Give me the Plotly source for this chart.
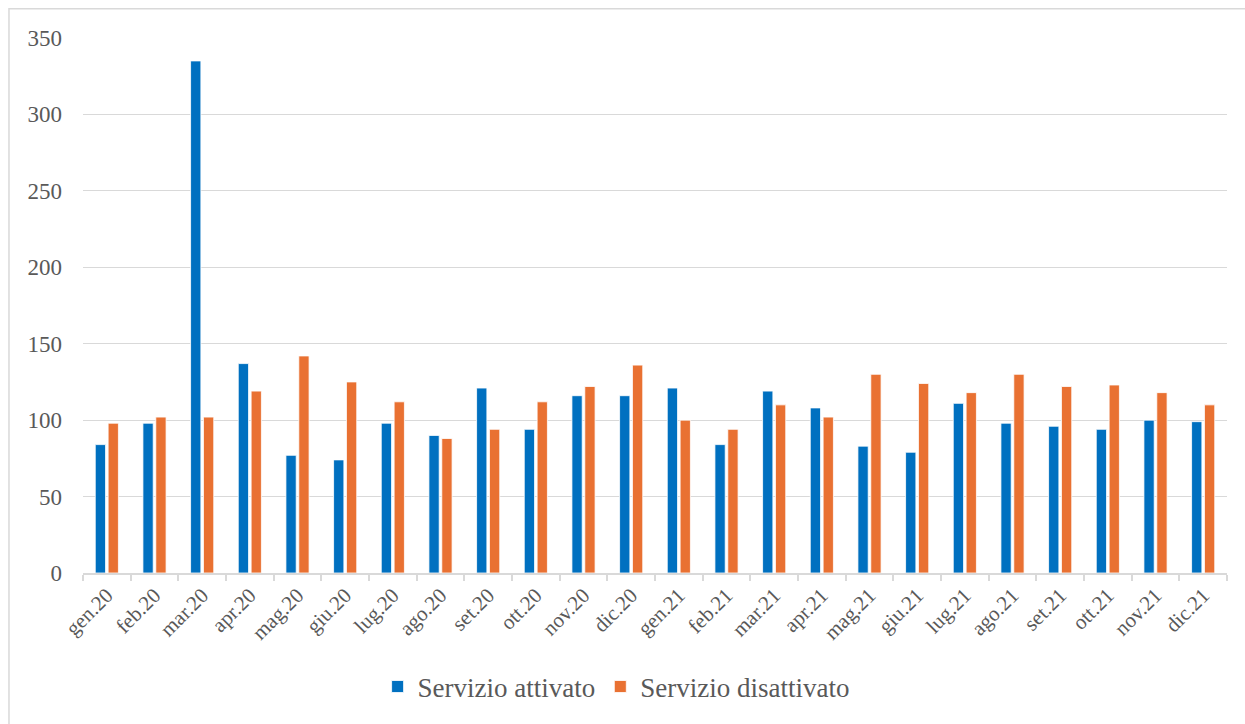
import plotly.graph_objects as go

months = ["gen.20", "feb.20", "mar.20", "apr.20", "mag.20", "giu.20", "lug.20", "ago.20",
          "set.20", "ott.20", "nov.20", "dic.20", "gen.21", "feb.21", "mar.21", "apr.21",
          "mag.21", "giu.21", "lug.21", "ago.21", "set.21", "ott.21", "nov.21", "dic.21"]
attivato = [84, 98, 335, 137, 77, 74, 98, 90, 121, 94, 116, 116,
            121, 84, 119, 108, 83, 79, 111, 98, 96, 94, 100, 99]
disattivato = [98, 102, 102, 119, 142, 125, 112, 88, 94, 112, 122, 136,
               100, 94, 110, 102, 130, 124, 118, 130, 122, 123, 118, 110]
y_ticks = [0, 50, 100, 150, 200, 250, 300, 350]

FONT = "'Times New Roman', 'Liberation Serif', 'DejaVu Serif', serif"
GREY = "#595959"

fig = go.Figure()
fig.add_trace(go.Bar(x=months, y=attivato, name="Servizio attivato",
                     marker=dict(color="#0070C0", line=dict(color="white", width=0.8))))
fig.add_trace(go.Bar(x=months, y=disattivato, name="Servizio disattivato",
                     marker=dict(color="#E97132", line=dict(color="white", width=0.8))))

fig.update_layout(
    width=1245, height=724,
    margin=dict(l=83, r=18, t=38, b=151, autoexpand=False),
    paper_bgcolor="white", plot_bgcolor="white",
    barmode="group", bargap=0.46, bargroupgap=0.2,
    font=dict(family=FONT, color=GREY),
    legend=dict(orientation="h", x=0.466, xanchor="center", y=-0.213, yanchor="middle",
                font=dict(size=27, family=FONT, color=GREY),
                traceorder="normal"),
    xaxis=dict(tickangle=-45, tickfont=dict(size=21, family=FONT, color=GREY),
               showline=True, linecolor="#D9D9D9", linewidth=1.5,
               ticks="outside", tickson="boundaries", ticklen=6, tickcolor="#D9D9D9",
               tickwidth=1.5, showgrid=False),
    yaxis=dict(range=[0, 350], tickvals=y_ticks, tickfont=dict(size=23, family=FONT, color=GREY),
               showgrid=True, gridcolor="#D9D9D9", gridwidth=1.3, zeroline=False,
               showline=False, ticks="", ticklabelstandoff=20),
    shapes=[dict(type="rect", xref="paper", yref="paper",
                 x0=-0.0647, x1=1.05, y0=-0.35, y1=1.0547,
                 line=dict(color="#D9D9D9", width=1.5), fillcolor="rgba(0,0,0,0)", layer="below")],
)

fig.write_html("out.html")
